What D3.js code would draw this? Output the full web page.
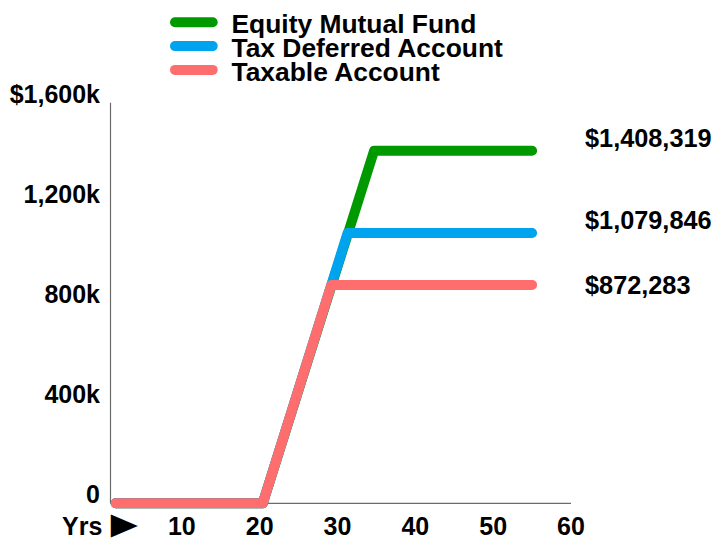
<!DOCTYPE html>
<html>
<head>
<meta charset="utf-8">
<script src="https://cdn.jsdelivr.net/npm/d3@7"></script>
<style>
  html, body { margin: 0; padding: 0; background: #fff; }
  svg { display: block; }
  text { font-family: "Liberation Sans", Arial, sans-serif; font-weight: bold; fill: #000; }
</style>
</head>
<body>
<svg id="chart" width="720" height="539"></svg>
<script>
// ---- data ----
const seriesNames = ["Equity Mutual Fund", "Tax Deferred Account", "Taxable Account"];
const seriesColors = ["#009a00", "#00a3ee", "#ff6e6e"];
const equityPoints  = [[1.5, 0], [20.4, 0], [34.7, 1408319], [55, 1408319]];
const deferredPoints = [[1.5, 0], [20.4, 0], [31.3, 1079846], [55, 1079846]];
const taxablePoints  = [[1.5, 0], [20.4, 0], [29.2, 872283], [55, 872283]];
const finalValues = [1408319, 1079846, 872283];
const yTickValues = [0, 400000, 800000, 1200000, 1600000];
const yTickLabels = ["0", "400k", "800k", "1,200k", "$1,600k"];
const xTickValues = [10, 20, 30, 40, 50, 60];
const xTickLabels = ["10", "20", "30", "40", "50", "60"];
const xAxisTitle = "Yrs";
const xAxisArrow = "\u25BA";

const svg = d3.select("#chart");
const x = d3.scaleLinear().domain([0, 60]).range([104, 571]);
const y = d3.scaleLinear().domain([0, 1600000]).range([503.3, 102.7]);
const axisLeftX = 110.5;

// axes lines
const axisColor = "#6b6b6b";
svg.append("line")
  .attr("x1", axisLeftX).attr("x2", axisLeftX)
  .attr("y1", y(1600000)).attr("y2", y(0))
  .attr("stroke", axisColor).attr("stroke-width", 1.2);
svg.append("line")
  .attr("x1", axisLeftX).attr("x2", x(60))
  .attr("y1", y(0)).attr("y2", y(0))
  .attr("stroke", axisColor).attr("stroke-width", 1.2);

// y tick labels (baseline at tick)
svg.append("g").selectAll("text")
  .data(yTickValues)
  .join("text")
  .attr("x", 100)
  .attr("y", d => y(d))
  .attr("text-anchor", "end")
  .attr("font-size", 25)
  .text((d, i) => yTickLabels[i]);

// x tick labels
svg.append("g").selectAll("text")
  .data(xTickValues)
  .join("text")
  .attr("x", d => x(d))
  .attr("y", 535)
  .attr("text-anchor", "middle")
  .attr("font-size", 25)
  .text((d, i) => xTickLabels[i]);

svg.append("text")
  .attr("x", 62)
  .attr("y", 535)
  .attr("font-size", 25)
  .text(xAxisTitle);
svg.append("text")
  .attr("transform", "translate(102,537) scale(1.8,1.55)")
  .attr("font-size", 25)
  .text(xAxisArrow);

// lines: draw equity first, taxable on top
const line = d3.line().x(d => x(d[0])).y(d => y(d[1]));
const allSeries = [equityPoints, deferredPoints, taxablePoints];
svg.append("g").selectAll("path")
  .data(allSeries)
  .join("path")
  .attr("d", d => line(d))
  .attr("fill", "none")
  .attr("stroke", (d, i) => seriesColors[i])
  .attr("stroke-width", 10)
  .attr("stroke-linecap", "round")
  .attr("stroke-linejoin", "round");

// end value labels
const labelNudge = [-4, -4, 9];
const fmt = d3.format("$,");
svg.append("g").selectAll("text")
  .data(finalValues)
  .join("text")
  .attr("x", 585)
  .attr("y", (d, i) => y(d) + labelNudge[i])
  .attr("font-size", 25.3)
  .text(d => fmt(d));

// legend
const legend = svg.append("g");
const legendRows = legend.selectAll("g")
  .data(seriesNames)
  .join("g")
  .attr("transform", (d, i) => `translate(0, ${22.3 + i * 23.8})`);
legendRows.append("line")
  .attr("x1", 175).attr("x2", 212.7)
  .attr("y1", 0).attr("y2", 0)
  .attr("stroke", (d, i) => seriesColors[i])
  .attr("stroke-width", 10)
  .attr("stroke-linecap", "round");
legendRows.append("text")
  .attr("x", 231.5)
  .attr("y", 10.6)
  .attr("font-size", 26.4)
  .text(d => d);
</script>
</body>
</html>
